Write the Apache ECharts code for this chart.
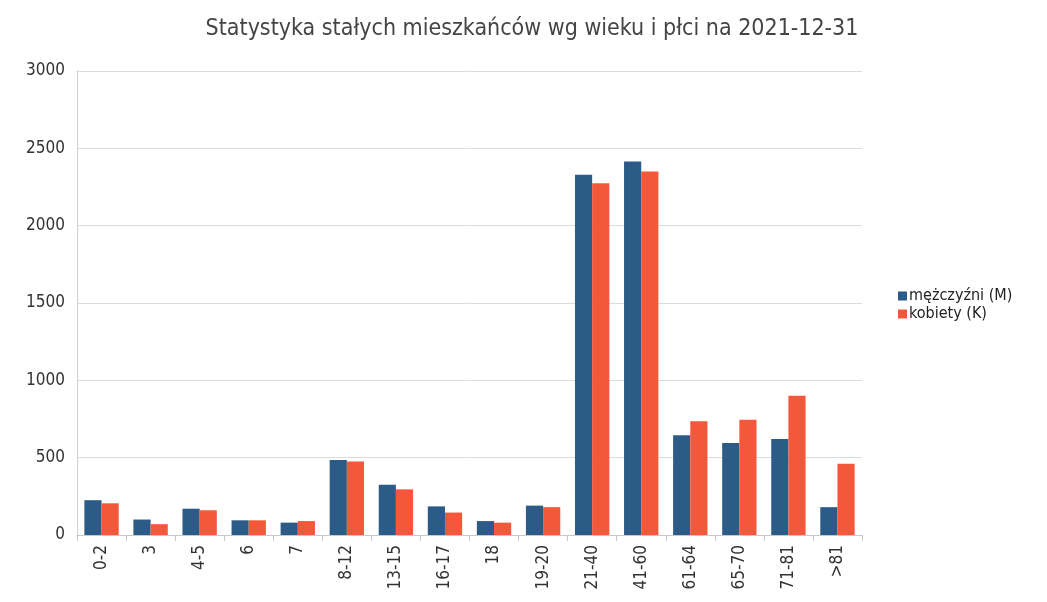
<!DOCTYPE html>
<html>
<head>
<meta charset="utf-8">
<script src="https://cdn.jsdelivr.net/npm/echarts@6/dist/echarts.min.js"></script>
<style>
  html, body { margin: 0; padding: 0; background: #fff; }
  #chart { width: 1047px; height: 602px; }
</style>
</head>
<body>
<div id="chart"></div>
<script>
// grupy wiekowe
var categories = ["0-2", "3", "4-5", "6", "7", "8-12", "13-15", "16-17", "18", "19-20",
  "21-40", "41-60", "61-64", "65-70", "71-81", ">81"];
var men = [225, 100, 170, 95, 80, 485, 325, 185, 90, 190, 2330, 2415, 645, 595, 620, 180];
var women = [205, 70, 160, 95, 90, 475, 295, 145, 80, 180, 2275, 2350, 735, 745, 900, 460];
var yTicks = [0, 500, 1000, 1500, 2000, 2500, 3000];

var font = "'DejaVu Sans Condensed', 'Liberation Sans', sans-serif";

var chart = echarts.init(document.getElementById("chart"));
chart.setOption({
  animation: false,
  title: {
    text: "Statystyka stałych mieszkańców wg wieku i płci na 2021-12-31",
    left: 527,
    textAlign: "center",
    top: 13,
    textStyle: { fontFamily: font, fontSize: 23, fontWeight: "normal", color: "#444" }
  },
  legend: {
    orient: "vertical",
    left: 893,
    top: 283,
    itemWidth: 9,
    itemHeight: 9,
    itemGap: 2,
    icon: "rect",
    textStyle: { fontFamily: font, fontSize: 16, color: "#222", padding: [0, 0, 0, -3] },
    data: ["mężczyźni (M)", "kobiety (K)"]
  },
  grid: { left: 77, right: 185, top: 71, bottom: 67 },
  xAxis: {
    type: "category",
    data: categories,
    axisLine: { lineStyle: { color: "#c8c8c8" } },
    axisTick: { show: true, length: 6, lineStyle: { color: "#c8c8c8" } },
    axisLabel: { rotate: 90, fontFamily: font, fontSize: 17, color: "#333", margin: 10 }
  },
  yAxis: {
    type: "value",
    min: 0,
    max: yTicks[yTicks.length - 1],
    interval: yTicks[1] - yTicks[0],
    axisLine: { show: true, lineStyle: { color: "#d0d0d0" } },
    axisTick: { show: false },
    splitLine: { lineStyle: { color: "#dcdcdc" } },
    axisLabel: {
      fontFamily: font, fontSize: 17, color: "#333", margin: 12,
      formatter: function (v) { return String(v); }
    }
  },
  series: [
    {
      name: "mężczyźni (M)",
      type: "bar",
      data: men,
      barGap: "0%",
      barCategoryGap: "30%",
      itemStyle: { color: "#2b5b86" }
    },
    {
      name: "kobiety (K)",
      type: "bar",
      data: women,
      itemStyle: { color: "#f4583a" }
    }
  ]
});
</script>
</body>
</html>
